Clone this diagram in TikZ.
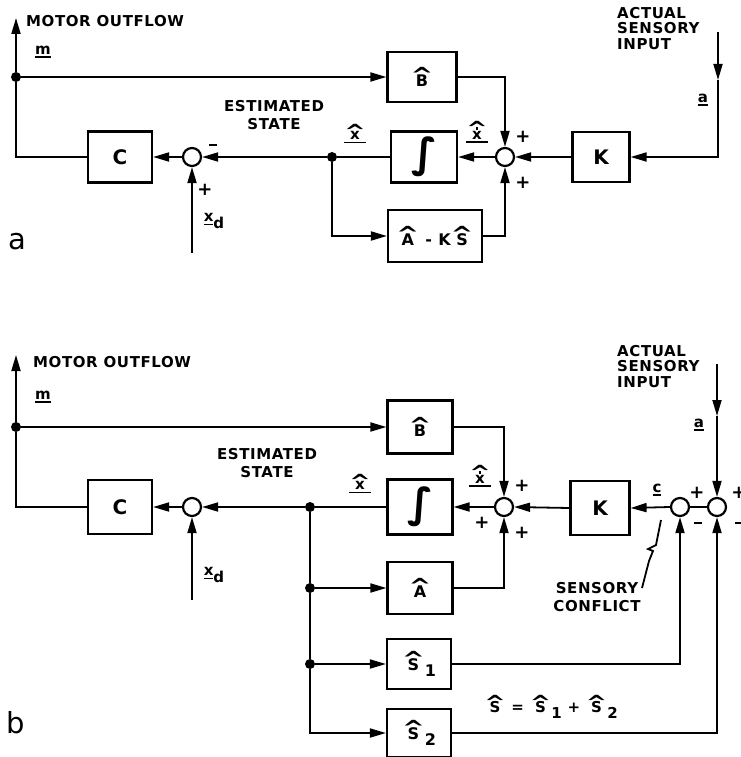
\documentclass[tikz,border=0pt]{standalone}
\usepackage{fontspec}
\usepackage{graphicx}
\usetikzlibrary{arrows.meta}
\newfontfamily\lab{DejaVu Sans}[LetterSpace=4]
\newfontfamily\plainsans{DejaVu Sans}
\newcommand\hatmark{\scalebox{1.7}[1.3]{\textasciicircum}}
\newcommand\Hat[1]{\vbox{\offinterlineskip\halign{\hfil##\hfil\cr\hatmark\cr\noalign{\kern-0.5em}#1\cr}}}
\newcommand\HatDot[1]{\vbox{\offinterlineskip\halign{\hfil##\hfil\cr\hatmark\cr\noalign{\kern-0.56em}\rule{2.8pt}{2.8pt}\cr\noalign{\kern1pt}#1\cr}}}
\newcommand\Und[1]{\vbox{\offinterlineskip\halign{\hfil##\hfil\cr#1\cr\noalign{\kern2pt}\leaders\hrule height 1.8pt\hfill\cr}}}
\newcommand\mns{\rule[3.5pt]{8pt}{2.2pt}}
\tikzset{
  blk/.style={draw, line width=2.2pt, inner sep=0pt, font=\lab\bfseries\fontsize{16}{17}\selectfont},
  bigl/.style={font=\lab\bfseries\fontsize{20}{20}\selectfont},
  conn/.style={line width=1.8pt},
  arr/.style={conn, -{Triangle[length=16pt,width=9pt]}},
  sumc/.style={circle, draw, line width=2.2pt, minimum size=18pt, inner sep=0pt},
  jdot/.style={circle, fill, minimum size=10pt, inner sep=0pt},
  txt/.style={inner sep=0pt, font=\lab\bfseries\fontsize{15}{18}\selectfont},
  sgn/.style={inner sep=0pt, font=\lab\bfseries\fontsize{18}{18}\selectfont},
  stxt/.style={inner sep=0pt, font=\lab\bfseries\fontsize{15}{15.5}\selectfont},
  panel/.style={inner sep=0pt, font=\plainsans\fontsize{29}{29}\selectfont}
}
\begin{document}
\begin{tikzpicture}[x=1pt,y=-1pt]
\useasboundingbox (0,0) rectangle (740,757);

% ================= panel a =================
\node[blk, bigl, minimum width=64pt, minimum height=51pt] (Ca) at (120,157) {C};
\node[sumc] (sa1) at (192,157) {};
\node[jdot] (da) at (332,157) {};
\node[blk, minimum width=66pt, minimum height=51pt] (Ia) at (424,157) {\resizebox*{26pt}{40pt}{\bfseries ∫}};
\node[blk, minimum width=69pt, minimum height=50pt] (Ba) at (422,77) {\Hat{B}};
\node[blk, minimum width=94pt, minimum height=52pt] (AKa) at (435,236) {\Hat{A} - K\Hat{S}};
\node[sumc] (sa2) at (505,157) {};
\node[blk, bigl, minimum width=57pt, minimum height=50pt] (Ka) at (601,157) {K};
\node[jdot] (dmA) at (16,77) {};
\coordinate (topA) at (16,18);
\coordinate (inA) at (718,32);
\coordinate (midA) at (718,80);
\coordinate (cA) at (718,157);
\coordinate (xdA) at (192,253);

\draw[conn] (Ca.west) -| (dmA);
\draw[arr] (dmA) -- (topA);
\draw[arr] (dmA) -- (Ba.west);
\draw[arr] (Ba.east) -| (sa2.north);
\draw[arr] (inA) -- (midA);
\draw[arr] (midA) -- (cA) -- (Ka.east);
\draw[arr] (Ka.west) -- (sa2.east);
\draw[arr] (sa2.west) -- (Ia.east);
\draw[conn] (Ia.west) -- (da);
\draw[arr] (da) -- (sa1.east);
\draw[arr] (sa1.west) -- (Ca.east);
\draw[arr] (da) |- (AKa.west);
\draw[arr] (AKa.east) -| (sa2.south);
\draw[arr] (xdA) -- (sa1.south);

\node[txt, anchor=west] (moA) at (26,21) {MOTOR OUTFLOW};
\node[txt] (mA) at (43,52) {\Und{m}};
\node[txt, align=center, anchor=north] (esA) at (274,100) {ESTIMATED\\STATE};
\node[stxt, align=left, anchor=north west] (acA) at (617,7) {ACTUAL\\SENSORY\\INPUT};
\node[txt] (aA) at (703,100) {\Und{a}};
\node[txt] (xhA) at (355,134) {\Und{\Hat{x}}};
\node[txt] (xdtA) at (477,132) {\Und{\HatDot{x}}};
\node[sgn] (p1A) at (523,137) {+};
\node[sgn] (p2A) at (523,183) {+};
\node[sgn] (mnA) at (213,147) {\mns};
\node[sgn] (p3A) at (205,190) {+};
\node[txt] (xdlA) at (214,221) {\Und{x}\raisebox{-3pt}{d}};
\node[panel] (pa) at (17,242) {a};

% ================= panel b =================
\node[blk, bigl, minimum width=64pt, minimum height=54pt] (Cb) at (120,507) {C};
\node[sumc] (sb1) at (192,507) {};
\node[jdot] (db) at (310,507) {};
\node[blk, minimum width=65pt, minimum height=55pt] (Ib) at (420,507) {\resizebox*{26pt}{40pt}{\bfseries ∫}};
\node[blk, minimum width=65pt, minimum height=53pt] (Bb) at (420,427) {\Hat{B}};
\node[sumc] (sb2) at (504,507) {};
\node[blk, bigl, minimum width=59pt, minimum height=54pt] (Kb) at (600,508) {K};
\node[sumc] (sb3) at (680,507) {};
\node[sumc] (sb4) at (717,507) {};
\node[blk, minimum width=65pt, minimum height=52pt] (Ab) at (420,588) {\Hat{A}};
\node[blk, minimum width=64pt, minimum height=50pt] (S1b) at (419,664) {\Hat{S}\raisebox{-6pt}{1}};
\node[blk, minimum width=64pt, minimum height=48pt] (S2b) at (419,733) {\Hat{S}\raisebox{-6pt}{2}};
\node[jdot] (dAb) at (310,588) {};
\node[jdot] (dSb) at (310,664) {};
\node[jdot] (dmB) at (16,427) {};
\coordinate (topB) at (16,355);
\coordinate (inB) at (717,364);
\coordinate (midB) at (717,416);
\coordinate (xdB) at (192,600);

\draw[conn] (Cb.west) -| (dmB);
\draw[arr] (dmB) -- (topB);
\draw[arr] (dmB) -- (Bb.west);
\draw[arr] (Bb.east) -| (sb2.north);
\draw[arr] (Kb.west) -- (sb2.east);
\draw[arr] (sb2.west) -- (Ib.east);
\draw[conn] (Ib.west) -- (db);
\draw[arr] (db) -- (sb1.east);
\draw[arr] (sb1.west) -- (Cb.east);
\draw[arr] (xdB) -- (sb1.south);
\draw[conn] (db) -- (dAb) -- (dSb);
\draw[arr] (dSb) |- (S2b.west);
\draw[arr] (dAb) -- (Ab.west);
\draw[arr] (dSb) -- (S1b.west);
\draw[arr] (Ab.east) -| (sb2.south);
\draw[arr] (S1b.east) -| (sb3.south);
\draw[arr] (S2b.east) -| (sb4.south);
\draw[conn] (sb4.west) -- (sb3.east);
\draw[arr] (sb3.west) -- (Kb.east);
\draw[arr] (inB) -- (midB);
\draw[arr] (midB) -- (sb4.north);
% sensory conflict pointer
\coordinate (zz) at (642,588);
\draw[conn] (zz) -- (649,561) -- (653,551) -- (648,549) -- (656,545) -- (661,520);

\node[txt, anchor=west] (moB) at (33,362) {MOTOR OUTFLOW};
\node[txt] (mB) at (43,397) {\Und{m}};
\node[txt, align=center, anchor=north] (esB) at (267,448) {ESTIMATED\\STATE};
\node[stxt, align=left, anchor=north west] (acB) at (617,345) {ACTUAL\\SENSORY\\INPUT};
\node[txt] (aB) at (699,425) {\Und{a}};
\node[txt] (xhB) at (360,484) {\Und{\Hat{x}}};
\node[txt] (xdtB) at (480,476) {\Und{\HatDot{x}}};
\node[sgn] (p1B) at (522,486) {+};
\node[sgn] (p2B) at (522,533) {+};
\node[sgn] (p3B) at (482,523) {+};
\node[txt] (cB) at (657,490) {\Und{c}};
\node[sgn] (p4B) at (697,493) {+};
\node[sgn] (mn1B) at (698,525) {\mns};
\node[sgn] (p5B) at (739,493) {+};
\node[sgn] (mn2B) at (739,525) {\mns};
\node[txt] (xdlB) at (214,575) {\Und{x}\raisebox{-3pt}{d}};
\node[txt, align=center] (scB) at (597,597) {SENSORY\\CONFLICT};
\node[txt] (eqB) at (551,707) {\Hat{S} = \Hat{S}\raisebox{-6pt}{1} + \Hat{S}\raisebox{-6pt}{2}};
\node[panel] (pb) at (16,723) {b};
\end{tikzpicture}
\end{document}
